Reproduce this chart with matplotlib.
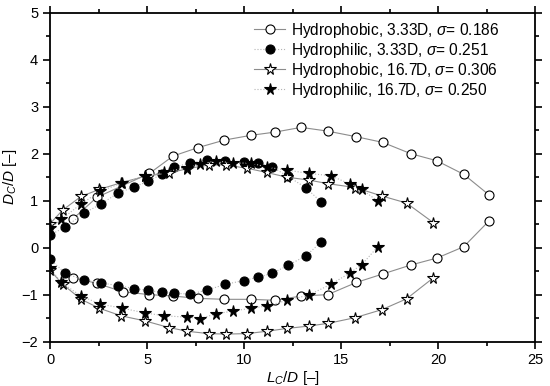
import matplotlib
matplotlib.use("Agg")
import matplotlib.pyplot as plt

plt.rcParams['font.family'] = ['Liberation Sans', 'DejaVu Sans']
plt.rcParams['mathtext.fontset'] = 'custom'
plt.rcParams['mathtext.rm'] = 'Liberation Sans'
plt.rcParams['mathtext.it'] = 'Liberation Sans:italic'

# Hydrophobic, 3.33D (open circles)
phob33_up_x = [1.2, 2.41, 5.12, 6.34, 7.63, 8.99, 10.34, 11.6, 12.94, 14.31, 15.79, 17.15, 18.59, 19.93, 21.32, 22.6]
phob33_up_y = [0.62, 1.07, 1.58, 1.95, 2.13, 2.29, 2.39, 2.46, 2.56, 2.48, 2.36, 2.24, 2.0, 1.85, 1.56, 1.13]
phob33_lo_x = [1.2, 2.41, 3.76, 5.12, 6.34, 7.63, 8.99, 10.34, 11.6, 12.94, 14.31, 15.79, 17.15, 18.59, 19.95, 21.32, 22.6]
phob33_lo_y = [-0.64, -0.76, -0.94, -1.0, -1.03, -1.08, -1.10, -1.10, -1.12, -1.03, -1.0, -0.74, -0.56, -0.37, -0.22, 0.02, 0.56]

# Hydrophilic, 3.33D (filled circles)
phil33_x = [0, 0.79, 1.77, 2.64, 3.52, 4.35, 5.03, 5.75, 6.39, 7.23, 8.11, 9.04, 9.98, 10.7, 11.43, 12.25, 13.2, 13.97]
phil33_up_y = [0.27, 0.44, 0.74, 0.93, 1.17, 1.29, 1.41, 1.56, 1.72, 1.80, 1.86, 1.84, 1.82, 1.80, 1.72, 1.52, 1.27, 0.97]
phil33_lo_y = [-0.24, -0.55, -0.69, -0.75, -0.81, -0.87, -0.91, -0.95, -0.97, -0.99, -0.90, -0.78, -0.70, -0.63, -0.55, -0.38, -0.17, 0.12]

# Hydrophobic, 16.7D (open stars)
phob167_x = [0, 0.65, 1.6, 2.54, 3.65, 4.9, 6.12, 7.08, 8.18, 9.05, 10.15, 11.17, 12.2, 13.32, 14.35, 15.72, 17.1, 18.37, 19.76]
phob167_up_y = [0.51, 0.80, 1.09, 1.24, 1.38, 1.52, 1.59, 1.68, 1.76, 1.76, 1.69, 1.60, 1.50, 1.44, 1.36, 1.28, 1.10, 0.95, 0.53]
phob167_lo_y = [-0.48, -0.78, -1.10, -1.29, -1.45, -1.56, -1.70, -1.78, -1.83, -1.84, -1.83, -1.78, -1.72, -1.67, -1.61, -1.49, -1.32, -1.09, -0.64]

# Hydrophilic, 16.7D (filled stars)
phil167_x = [0, 0.57, 1.6, 2.58, 3.73, 4.9, 5.89, 7.05, 7.75, 8.53, 9.42, 10.35, 11.2, 12.23, 13.32, 14.48, 15.48, 16.07, 16.89]
phil167_up_y = [0.41, 0.60, 0.93, 1.20, 1.38, 1.52, 1.61, 1.70, 1.77, 1.85, 1.80, 1.80, 1.71, 1.65, 1.58, 1.53, 1.35, 1.24, 0.99]
phil167_lo_y = [-0.43, -0.74, -1.03, -1.20, -1.29, -1.39, -1.45, -1.48, -1.51, -1.41, -1.35, -1.29, -1.24, -1.12, -1.01, -0.78, -0.53, -0.36, 0.02]

labels = ["Hydrophobic, 3.33D, $\\sigma$= 0.186",
          "Hydrophilic, 3.33D, $\\sigma$= 0.251",
          "Hydrophobic, 16.7D, $\\sigma$= 0.306",
          "Hydrophilic, 16.7D, $\\sigma$= 0.250"]

fig = plt.figure(figsize=(5.5, 3.86), dpi=100)
ax = fig.add_axes([0.091, 0.115, 0.882, 0.852])

phob = dict(color="#8c8c8c", lw=0.8, ls="-", mec="black", mew=0.8)
phil = dict(color="#b4b4b4", lw=0.8, ls=":", mec="black", mew=0.8)

# hydrophobic 3.33D
ax.plot(phob33_up_x, phob33_up_y, marker="o", ms=6.5, mfc="white", label=labels[0], **phob)
ax.plot(phob33_lo_x, phob33_lo_y, marker="o", ms=6.5, mfc="white", **phob)
# hydrophilic 3.33D
ax.plot(phil33_x, phil33_up_y, marker="o", ms=6.5, mfc="black", label=labels[1], **phil)
ax.plot(phil33_x, phil33_lo_y, marker="o", ms=6.5, mfc="black", **phil)
# hydrophobic 16.7D
ax.plot(phob167_x, phob167_up_y, marker="*", ms=8.5, mfc="white", label=labels[2], **phob)
ax.plot(phob167_x, phob167_lo_y, marker="*", ms=8.5, mfc="white", **phob)
# hydrophilic 16.7D
ax.plot(phil167_x, phil167_up_y, marker="*", ms=8.5, mfc="black", label=labels[3], **phil)
ax.plot(phil167_x, phil167_lo_y, marker="*", ms=8.5, mfc="black", **phil)

ax.set_xlim(0, 25)
ax.set_ylim(-2, 5)
ax.set_xticks([0, 5, 10, 15, 20, 25])
ax.set_xticks([2.5, 7.5, 12.5, 17.5, 22.5], minor=True)
ax.set_yticks([-2, -1, 0, 1, 2, 3, 4, 5])
ax.set_yticks([-1.5, -0.5, 0.5, 1.5, 2.5, 3.5, 4.5], minor=True)
ax.set_yticklabels(["\u22122", "\u22121", "0", "1", "2", "3", "4", "5"])
ax.tick_params(which="both", direction="out", top=True, right=True, labelsize=10.5, width=1.2)
ax.tick_params(which="major", length=5)
ax.tick_params(which="minor", length=3)
for s in ax.spines.values():
    s.set_linewidth(1.3)

ax.set_xlabel("$L_C/D$ [\u2013]", fontsize=11, labelpad=1)
ax.set_ylabel("$D_C/D$ [\u2013]", fontsize=11, labelpad=2)

ax.legend(loc="upper right", bbox_to_anchor=(0.948, 1.006), frameon=False, fontsize=11.2,
          handlelength=2.0, handletextpad=0.4, labelspacing=0.06, borderaxespad=0.25)

fig.savefig("out.png", dpi=100)
